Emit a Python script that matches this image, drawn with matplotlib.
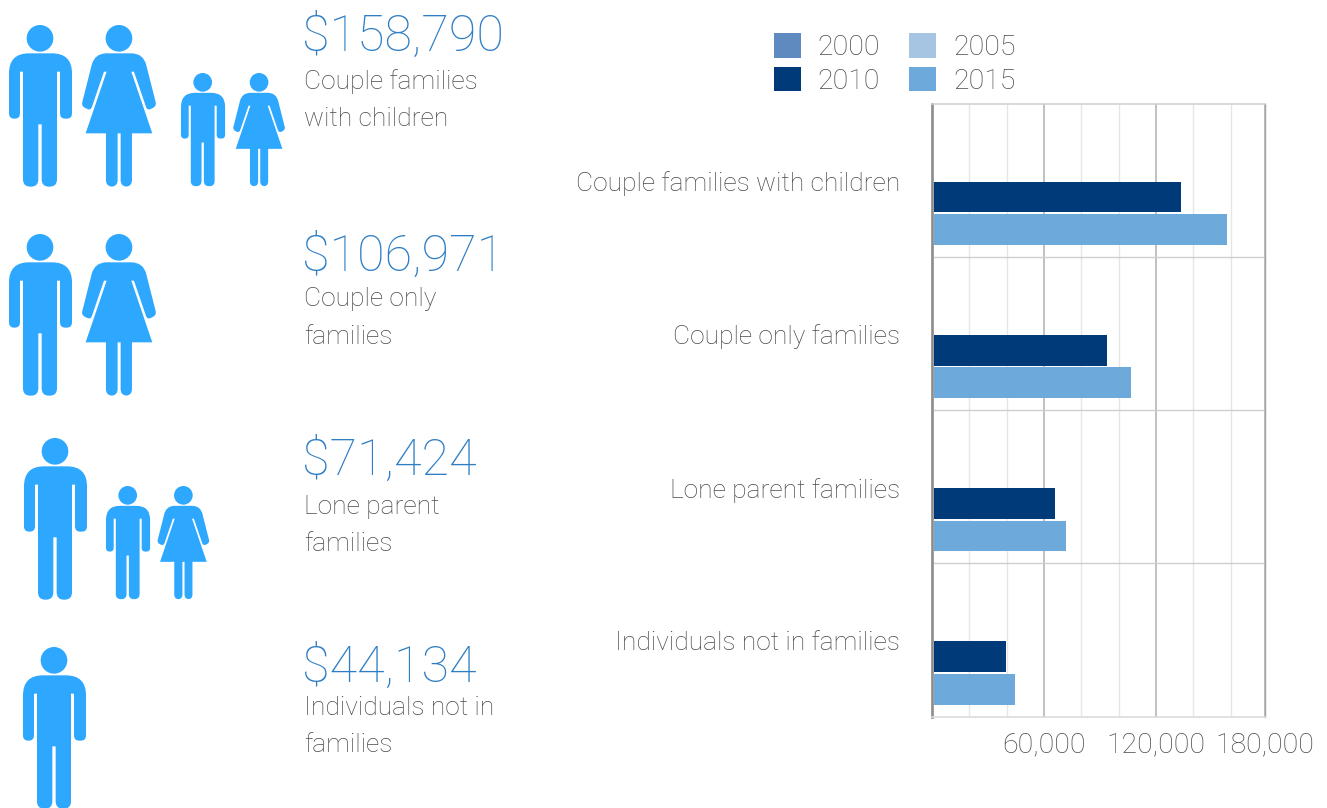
import matplotlib
matplotlib.use('Agg')
import matplotlib.pyplot as plt
from matplotlib.patches import Circle, PathPatch
from matplotlib.path import Path

plt.rcParams['font.family'] = ['Roboto', 'Liberation Sans', 'DejaVu Sans']
plt.rcParams['font.weight'] = 'light'

W, H = 1327, 808
ICON = '#2ea7ff'
VALUE = '#2f7ec4'
GREY = '#4a4a4a'

# chart data
categories = ['Couple families with children', 'Couple only families',
              'Lone parent families', 'Individuals not in families']
years = ['2000', '2010', '2005', '2015']
year_colors = ['#5f8abf', '#003a78', '#a5c5e2', '#6daadb']
income_2010 = [133400, 93750, 65900, 39600]
income_2015 = [158000, 106600, 71800, 44500]
x_major = [60000, 120000, 178400]
x_major_labels = ['60,000', '120,000', '180,000']
x_minor = [20000, 40000, 80000, 100000, 140000, 160000]

# left hand side
family_values = ['$158,790', '$106,971', '$71,424', '$44,134']
family_labels = [['Couple families', 'with children'], ['Couple only', 'families'],
                 ['Lone parent', 'families'], ['Individuals not in', 'families']]
value_base = [51, 271, 475, 682]
label_base = [[89, 126], [306, 344], [514, 551], [715, 752]]

# icon outlines: (x, y, corner radius), measured on a 3x grid
man = [(27, 160, 60), (216, 160, 60), (216, 356, 16), (180, 356, 16), (180, 215, 0),
       (171, 215, 0), (171, 560, 22), (125, 560, 22), (125, 373, 0), (115, 373, 0),
       (115, 560, 22), (69, 560, 22), (69, 215, 0), (60, 215, 0), (60, 356, 16), (27, 356, 16)]
woman = [(284, 160, 36), (430, 160, 36), (470, 318, 12), (442, 332, 12), (402, 215, 0),
         (394, 215, 0), (457, 400, 0), (396, 400, 0), (396, 560, 20), (362, 560, 20),
         (362, 400, 0), (353, 400, 0), (353, 560, 20), (318, 560, 20), (318, 400, 0),
         (257, 400, 0), (320, 215, 0), (312, 215, 0), (272, 332, 12), (244, 318, 12)]
man_head = (120, 115, 40)
woman_head = (357, 115, 40)
man_origin = (27, 75)
woman_origin = (244, 75)

# kind, left, top, scale
people = [('m', 9, 25, 1), ('w', 81.3, 25, 1), ('m', 181, 73, 0.7), ('w', 232.7, 73, 0.7),
          ('m', 9, 234, 1), ('w', 81.3, 234, 1),
          ('m', 24, 438, 1), ('m', 106, 486, 0.7), ('w', 157, 486, 0.7),
          ('m', 23, 647, 1)]


def rounded_path(points):
    verts, codes = [], []
    n = len(points)
    for i in range(n):
        x, y, r = points[i]
        px, py, _ = points[i - 1]
        nx, ny, _ = points[(i + 1) % n]
        if r == 0:
            verts.append((x, y))
            codes.append(Path.LINETO)
            continue
        d1 = ((px - x) ** 2 + (py - y) ** 2) ** 0.5
        d2 = ((nx - x) ** 2 + (ny - y) ** 2) ** 0.5
        verts += [(x + (px - x) * r / d1, y + (py - y) * r / d1), (x, y),
                  (x + (nx - x) * r / d2, y + (ny - y) * r / d2)]
        codes += [Path.LINETO, Path.CURVE3, Path.CURVE3]
    codes[0] = Path.MOVETO
    verts.append(verts[0])
    codes.append(Path.CLOSEPOLY)
    return Path(verts, codes)


def draw_person(ax, kind, left, top, scale):
    outline, head, origin = (man, man_head, man_origin) if kind == 'm' else (woman, woman_head, woman_origin)
    k = scale / 3
    pts = [(left + (x - origin[0]) * k, top + (y - origin[1]) * k, r * k) for x, y, r in outline]
    ax.add_patch(PathPatch(rounded_path(pts), fc=ICON, ec='none'))
    ax.add_patch(Circle((left + (head[0] - origin[0]) * k, top + (head[1] - origin[1]) * k),
                        head[2] * k, fc=ICON, ec='none'))


fig = plt.figure(figsize=(W / 100, H / 100), dpi=100, facecolor='white')

# bar chart, placed in pixels
left, right, top, bottom = 932, 1265, 103.5, 716.5
ax = fig.add_axes([left / W, 1 - bottom / H, (right - left) / W, (bottom - top) / H])
n = len(categories)
nan_row = [float('nan')] * n
pos_2010 = [i + 0.61 for i in range(n)]
pos_2015 = [i + 0.822 for i in range(n)]
handles = [ax.barh(pos_2010, nan_row, height=0.2, color=year_colors[0]),
           ax.barh(pos_2010, income_2010, height=0.2, color=year_colors[1], zorder=2),
           ax.barh(pos_2015, nan_row, height=0.2, color=year_colors[2]),
           ax.barh(pos_2015, income_2015, height=0.2, color=year_colors[3], zorder=2)]
ax.axvspan(0, 1100, color='white', lw=0, zorder=2.2)
ax.set_xlim(0, 178400)
ax.set_ylim(n, 0)
ax.set_xticks(x_major)
ax.set_xticklabels(x_major_labels)
ax.set_xticks(x_minor, minor=True)
ax.set_yticks([i + 0.507 for i in range(n)])
ax.set_yticklabels(categories)
ax.set_yticks(range(1, n), minor=True)
ax.tick_params(axis='both', which='both', length=0)
ax.tick_params(axis='x', which='major', labelsize=20.5, labelcolor=GREY, pad=11)
ax.tick_params(axis='y', which='major', labelsize=19, labelcolor=GREY, pad=23)
ax.set_axisbelow(True)
ax.grid(True, axis='x', which='major', color='#b5b5b5', lw=1.2)
ax.grid(True, axis='x', which='minor', color='#e6e6e6', lw=1)
ax.grid(True, axis='y', which='minor', color='#cfcfcf', lw=1)
ax.spines['left'].set(color='#8c8c8c', lw=1.9)
ax.spines['right'].set(color='#a3a3a3', lw=1)
ax.spines['top'].set(color='#cfcfcf', lw=1.1)
ax.spines['bottom'].set(color='#dcdcdc', lw=1.2)

fig.legend(handles, years, ncol=2, loc='upper left', bbox_to_anchor=(774 / W, 1 - 33 / H),
           bbox_transform=fig.transFigure, frameon=False, fontsize=20.5, labelcolor=GREY,
           handlelength=0.95, handleheight=0.95, handletextpad=0.58, columnspacing=1.03,
           labelspacing=0.2, borderpad=0, borderaxespad=0)

# icons and text on a full figure layer in pixel coordinates
over = fig.add_axes([0, 0, 1, 1], zorder=-1)
over.set_xlim(0, W)
over.set_ylim(H, 0)
over.axis('off')
for kind, px, py, scale in people:
    draw_person(over, kind, px, py, scale)
for i in range(len(family_values)):
    over.text(302, value_base[i], family_values[i], fontsize=36.2, color=VALUE, va='baseline')
    for j in range(2):
        over.text(304, label_base[i][j], family_labels[i][j], fontsize=19, color=GREY, va='baseline')

fig.savefig('out.png', dpi=100)
